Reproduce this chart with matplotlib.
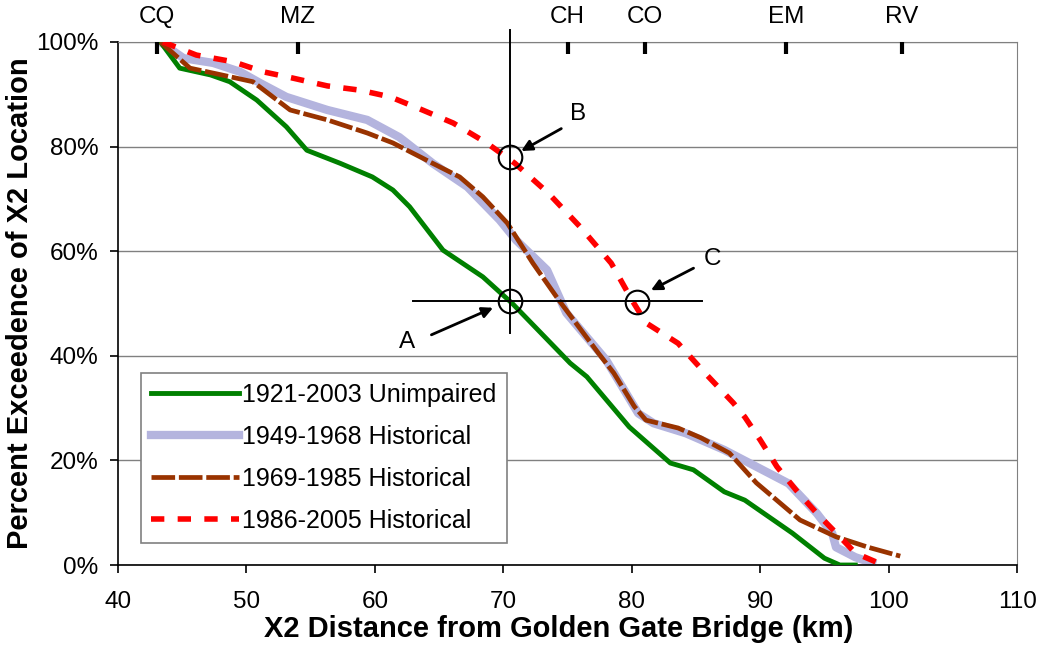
import matplotlib
matplotlib.use("Agg")
import matplotlib.pyplot as plt
from matplotlib.ticker import PercentFormatter

plt.rcParams['font.family'] = ['Liberation Sans', 'DejaVu Sans']

# 1921-2003 Unimpaired
unimp_x = [43.3, 44.8, 47.2, 48.7, 50.8, 53.1, 54.7, 57.3, 59.8, 61.4, 62.7, 65.3, 68.4,
           70.7, 75.2, 76.5, 79.8, 83.0, 84.8, 87.2, 88.8, 92.5, 95.0, 96.2, 97.4]
unimp_y = [100, 95.0, 93.7, 92.4, 88.9, 83.8, 79.3, 76.8, 74.2, 71.7, 68.5, 60.2, 55.1,
           50.0, 38.6, 36.0, 26.4, 19.5, 18.2, 14.0, 12.4, 6.1, 1.3, 0.0, 0.0]

# 1949-1968 Historical
h49_x = [43.3, 45.1, 47.4, 49.5, 51.1, 53.1, 56.3, 59.4, 61.9, 64.5, 67.2, 69.7, 71.0,
         73.4, 74.9, 78.0, 80.5, 81.7, 84.2, 87.2, 89.7, 92.2, 94.4, 95.6, 95.9, 97.4, 98.7]
h49_y = [100, 96.9, 96.0, 94.3, 92.1, 89.5, 87.0, 85.1, 81.8, 76.8, 72.3, 66.0, 62.1,
         56.4, 48.2, 39.2, 29.0, 27.1, 25.2, 22.0, 18.8, 15.6, 9.9, 6.1, 3.4, 1.5, 0.4]

# 1969-1985 Historical
h69_x = [43.3, 45.6, 47.7, 50.5, 53.4, 56.3, 59.4, 61.4, 64.5, 66.6, 68.4, 70.3, 72.3,
         74.3, 77.4, 78.6, 80.2, 81.1, 83.6, 85.4, 87.6, 89.7, 93.1, 95.9, 98.4, 100.9]
h69_y = [100, 95.0, 93.9, 92.4, 87.0, 85.1, 82.6, 80.7, 76.8, 74.2, 70.4, 65.4, 57.7,
         50.7, 40.5, 36.7, 30.3, 27.7, 26.2, 24.3, 21.4, 15.7, 8.6, 5.4, 3.4, 1.7]

# 1986-2005 Historical
h86_x = [43.5, 46.1, 49.0, 51.3, 53.6, 56.3, 58.8, 61.2, 63.7, 66.1, 68.7, 70.9, 73.5,
         76.0, 78.4, 80.0, 81.1, 83.6, 85.7, 87.9, 88.8, 90.0, 91.3, 92.8, 94.4, 96.2,
         97.4, 99.0]
h86_y = [100, 97.5, 96.2, 94.3, 93.1, 91.6, 90.8, 89.5, 87.0, 84.5, 80.7, 76.8, 71.1,
         64.6, 57.7, 50.7, 46.3, 42.4, 36.7, 31.0, 28.3, 23.9, 18.8, 14.3, 9.9, 5.4,
         2.3, 0.6]

# locations along the estuary
loc_names = ['CQ', 'MZ', 'CH', 'CO', 'EM', 'RV']
loc_km = [43, 54, 75, 81, 92, 101]

# reference points A, B, C
pt_names = ['A', 'B', 'C']
pt_x = [70.5, 70.5, 80.4]
pt_y = [50.5, 78.0, 50.3]
lbl_x = [62.5, 75.8, 86.3]
lbl_y = [42.6, 86.2, 58.6]
tail_x = [64.2, 74.7, 85.0]
tail_y = [43.8, 83.7, 57.0]
head_x = [69.4, 71.2, 81.3]
head_y = [49.4, 78.9, 52.3]

fig = plt.figure(figsize=(10.4, 6.49), dpi=100)
ax = fig.add_axes([0.1135, 0.1294, 0.8645, 0.8059])

ax.plot(unimp_x, unimp_y, color='#008000', lw=3.5, label='1921-2003 Unimpaired', zorder=3)
ax.plot(h49_x, h49_y, color='#b4b4de', lw=6.0, label='1949-1968 Historical', zorder=2)
ax.plot(h69_x, h69_y, color='#993300', lw=3.4, dashes=(5, 0.8), label='1969-1985 Historical', zorder=4)
ax.plot(h86_x, h86_y, color='#ff0000', lw=4.0, dashes=(2.4, 2.4), label='1986-2005 Historical', zorder=5)

# cross lines
ax.plot([70.5, 70.5], [44.4, 102.3], color='black', lw=1.4, clip_on=False, zorder=6)
ax.plot([63.0, 85.5], [50.5, 50.5], color='black', lw=1.4, zorder=6)

ax.plot(pt_x, pt_y, 'o', ms=17, mfc='none', mec='black', mew=1.5, zorder=7)
for i in range(len(pt_names)):
    ax.annotate('', xy=(head_x[i], head_y[i]), xytext=(tail_x[i], tail_y[i]),
                arrowprops=dict(arrowstyle='-|>', color='black', lw=2, mutation_scale=16))
    ax.text(lbl_x[i], lbl_y[i], pt_names[i], fontsize=17.5, ha='center', va='center')

# location marks at the top
for name, km in zip(loc_names, loc_km):
    ax.plot([km, km], [100, 97.7], color='black', lw=3, solid_capstyle='butt', clip_on=False, zorder=8)
    ax.text(km, 104.8, name, fontsize=17.5, ha='center', va='center')

ax.set_xlim(40, 110)
ax.set_ylim(0, 100)
ax.set_xticks(range(40, 111, 10))
ax.set_yticks(range(0, 101, 20))
ax.yaxis.set_major_formatter(PercentFormatter(decimals=0))
ax.tick_params(labelsize=17.5, direction='out', length=6, width=1.2, color='black')
ax.tick_params(axis='x', pad=13)
ax.tick_params(axis='y', pad=8)
ax.grid(axis='y', color='#808080', lw=1.0)
ax.set_axisbelow(True)
ax.spines['top'].set_color('#808080')
ax.spines['right'].set_color('#808080')
for s in ['left', 'bottom']:
    ax.spines[s].set_linewidth(1.2)

ax.set_xlabel('X2 Distance from Golden Gate Bridge (km)', fontsize=21, fontweight='bold')
ax.xaxis.set_label_coords(0.49, -0.095)
ax.set_ylabel('Percent Exceedence of X2 Location', fontsize=21, fontweight='bold')
ax.yaxis.set_label_coords(-0.094, 0.5)

leg = ax.legend(loc='lower left', bbox_to_anchor=(0.0256, 0.042), borderaxespad=0,
                fontsize=18, handlelength=3.5, handletextpad=0.15, labelspacing=0.72,
                frameon=True, fancybox=False, edgecolor='#808080', framealpha=1)
leg.get_frame().set_linewidth(1.2)

fig.savefig('out.png', dpi=100)
